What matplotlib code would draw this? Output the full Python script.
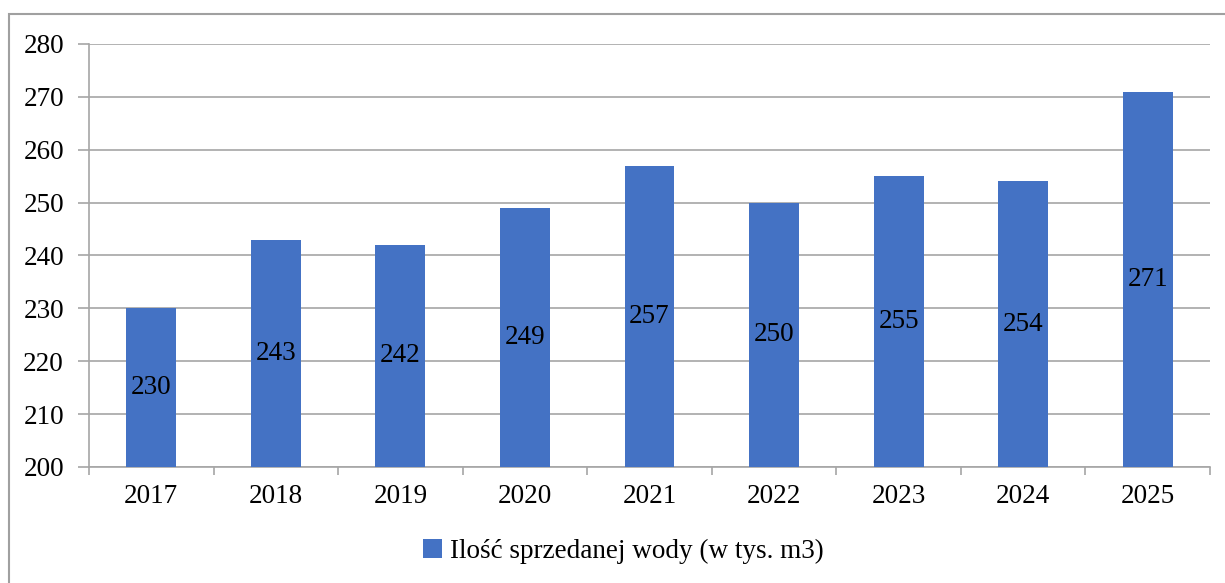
import matplotlib
matplotlib.use("Agg")
import matplotlib.pyplot as plt
from matplotlib.patches import Rectangle

years = ["2017", "2018", "2019", "2020", "2021", "2022", "2023", "2024", "2025"]
values = [230, 243, 242, 249, 257, 250, 255, 254, 271]
series_name = "Ilość sprzedanej wody (w tys. m3)"
yticks = [200, 210, 220, 230, 240, 250, 260, 270, 280]

plt.rcParams['font.family'] = ['Liberation Serif', 'DejaVu Serif']
FS = 19.5
BLUE = '#4472C4'
GRID = '#A6A6A6'

fig = plt.figure(figsize=(12.25, 5.83), dpi=100)
fig.patches.append(Rectangle((9/1225, -0.2), 1.2, 1.2 - 14/583, transform=fig.transFigure,
                             fill=False, edgecolor='#A0A0A0', linewidth=1.5))
ax = fig.add_axes([89/1225, 1 - 467/583, (1210 - 89)/1225, (467 - 44)/583])

x = list(range(len(years)))
bars = ax.bar(x, values, width=0.4, color=BLUE, label=series_name, zorder=3)
for xi, v in zip(x, values):
    ax.text(xi, (200 + v) / 2, str(v), ha='center', va='center', fontsize=FS, zorder=4)

ax.set_ylim(200, 280)
ax.set_xlim(-0.5, len(years) - 0.5)
ax.set_yticks(yticks)
ax.set_yticklabels([str(t) for t in yticks], fontsize=FS)
ax.set_xticks(x)
ax.set_xticklabels(years, fontsize=FS)
ax.tick_params(axis='x', length=0, pad=12)
ax.set_xticks([i + 0.5 for i in range(-1, len(years))], minor=True)
ax.tick_params(axis='x', which='minor', length=6, color=GRID, width=1.2)
ax.tick_params(axis='y', length=8, color=GRID, width=1.2, pad=10)
ax.grid(axis='y', color=GRID, linewidth=1.2, zorder=0)
for s in ['top', 'right']:
    ax.spines[s].set_visible(False)
for s in ['left', 'bottom']:
    ax.spines[s].set_color(GRID)
    ax.spines[s].set_linewidth(1.2)

fig.legend(handles=[bars], labels=[series_name], loc='center',
           bbox_to_anchor=(623/1225, 1 - 551/583), frameon=False, fontsize=FS,
           handlelength=0.7, handleheight=0.7, handletextpad=0.3)

fig.savefig("out.png", dpi=100)
